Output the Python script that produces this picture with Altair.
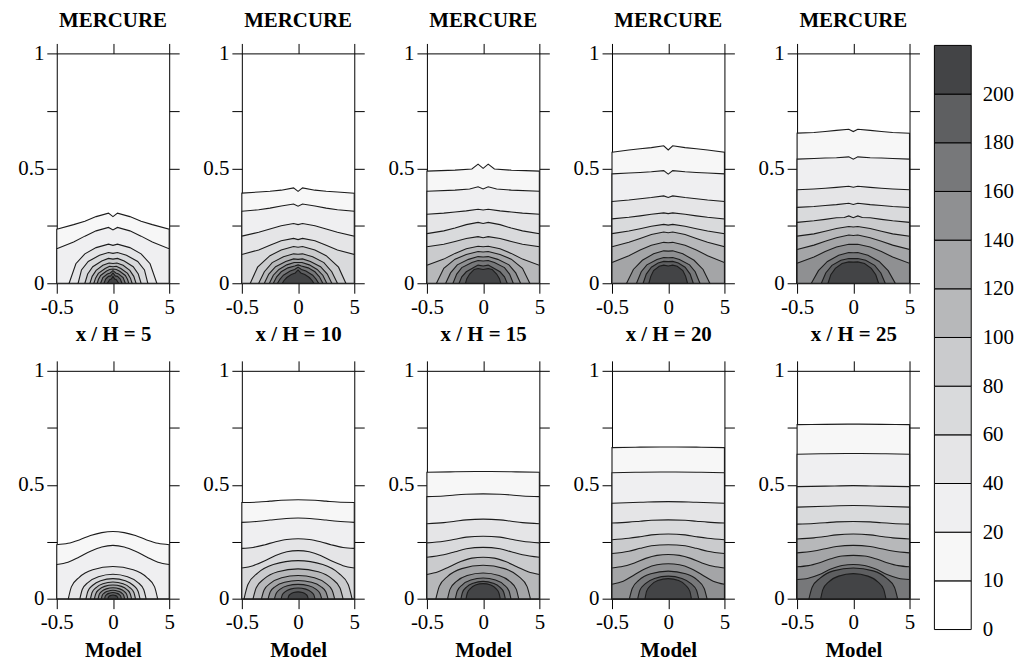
import altair as alt
import pandas as pd

# contour levels and band colours (band i lies between level i-1 and level i)
LEVELS = [10, 20, 40, 60, 80, 100, 120, 140, 160, 180, 200]
BAND_COLORS = ["#ffffff", "#f7f7f7", "#efeff1", "#e5e5e7", "#d9dadc", "#cacbcd",
               "#b7b8ba", "#a4a5a7", "#8f9092", "#77787a", "#5e5f61", "#434446"]
CBAR_LABELS = ["0", "10", "20", "40", "60", "80", "100", "120", "140", "160", "180", "200"]
XH = [5, 10, 15, 20, 25]
X_TICKS = [-5, 0, 5]
Y_TICKS = [0, 0.25, 0.5, 0.75, 1]

# half profiles (x >= 0) of each contour, one list per level in LEVELS order
# MERCURE (top row)
T1 = [
    [(0, 0.29), (0.4, 0.305), (1.5, 0.29), (2.5, 0.27), (3.5, 0.255), (5, 0.235)],
    [(0, 0.232), (0.4, 0.243), (1.5, 0.228), (2.5, 0.205), (3.5, 0.18), (5, 0.15)],
    [(0, 0.165), (0.4, 0.17), (1.5, 0.155), (2.5, 0.128), (3.3, 0.085), (3.9, 0)],
    [(0, 0.13), (0.4, 0.134), (1.2, 0.122), (2.2, 0.095), (2.8, 0.058), (3.1, 0)],
    [(0, 0.105), (0.4, 0.108), (1.0, 0.097), (1.8, 0.072), (2.25, 0.04), (2.5, 0)],
    [(0, 0.086), (0.35, 0.088), (0.9, 0.078), (1.5, 0.056), (1.85, 0.03), (2.05, 0)],
    [(0, 0.072), (0.3, 0.074), (0.7, 0.064), (1.3, 0.043), (1.55, 0.022), (1.7, 0)],
    [(0, 0.062), (0.3, 0.06), (0.6, 0.052), (1.1, 0.034), (1.3, 0.016), (1.4, 0)],
    [(0, 0.055), (0.25, 0.045), (0.5, 0.04), (0.9, 0.025), (1.1, 0)],
    [(0, 0.045), (0.2, 0.032), (0.4, 0.03), (0.65, 0.018), (0.8, 0)],
    [(0, 0.03), (0.15, 0.018), (0.3, 0.015), (0.5, 0)],
]
T2 = [
    [(0, 0.40), (0.4, 0.415), (1.5, 0.405), (2.5, 0.40), (3.5, 0.397), (5, 0.392)],
    [(0, 0.335), (0.4, 0.345), (1.5, 0.336), (2.5, 0.327), (3.5, 0.32), (5, 0.313)],
    [(0, 0.255), (0.4, 0.26), (1.5, 0.25), (2.5, 0.236), (3.5, 0.222), (5, 0.205)],
    [(0, 0.19), (0.4, 0.195), (1.5, 0.185), (2.5, 0.165), (3.5, 0.145), (5, 0.125)],
    [(0, 0.157), (0.4, 0.16), (1.5, 0.145), (2.5, 0.12), (3.6, 0.07), (4.25, 0)],
    [(0, 0.126), (0.4, 0.128), (1.3, 0.115), (2.3, 0.09), (3.0, 0.05), (3.5, 0)],
    [(0, 0.104), (0.4, 0.106), (1.1, 0.095), (2.0, 0.072), (2.6, 0.04), (3.0, 0)],
    [(0, 0.09), (0.35, 0.09), (1.0, 0.08), (1.7, 0.06), (2.2, 0.035), (2.55, 0)],
    [(0, 0.08), (0.3, 0.075), (0.9, 0.067), (1.5, 0.05), (1.9, 0.028), (2.2, 0)],
    [(0, 0.07), (0.3, 0.06), (0.7, 0.053), (1.3, 0.035), (1.6, 0.018), (1.83, 0)],
    [(0, 0.058), (0.25, 0.045), (0.6, 0.038), (1.0, 0.025), (1.25, 0.012), (1.4, 0)],
]
T3 = [
    [(0, 0.50), (0.45, 0.518), (1.0, 0.497), (2.5, 0.492), (5, 0.488)],
    [(0, 0.41), (0.45, 0.42), (1.2, 0.41), (2.5, 0.405), (5, 0.40)],
    [(0, 0.319), (0.45, 0.322), (1.5, 0.315), (2.5, 0.31), (3.5, 0.305), (5, 0.30)],
    [(0, 0.26), (0.45, 0.265), (1.5, 0.255), (2.5, 0.24), (3.5, 0.228), (5, 0.216)],
    [(0, 0.198), (0.45, 0.203), (1.5, 0.195), (2.5, 0.182), (3.5, 0.17), (5, 0.159)],
    [(0, 0.159), (0.45, 0.161), (1.5, 0.15), (2.5, 0.13), (3.5, 0.105), (5, 0.078)],
    [(0, 0.136), (0.45, 0.138), (1.5, 0.125), (2.5, 0.105), (3.5, 0.065), (4.15, 0)],
    [(0, 0.114), (0.45, 0.116), (1.3, 0.104), (2.3, 0.08), (2.9, 0.045), (3.33, 0)],
    [(0, 0.097), (0.45, 0.099), (1.0, 0.09), (1.9, 0.068), (2.35, 0.04), (2.68, 0)],
    [(0, 0.075), (0.45, 0.079), (0.8, 0.07), (1.5, 0.05), (1.9, 0.028), (2.14, 0)],
    [(0, 0.06), (0.45, 0.064), (0.8, 0.06), (1.2, 0.04), (1.45, 0.02), (1.57, 0)],
]
T4 = [
    [(0, 0.58), (0.4, 0.598), (1.5, 0.59), (2.5, 0.585), (3.5, 0.58), (5, 0.57)],
    [(0, 0.475), (0.4, 0.49), (1.5, 0.485), (2.5, 0.482), (3.5, 0.48), (5, 0.476)],
    [(0, 0.373), (0.4, 0.38), (1.5, 0.373), (2.5, 0.368), (3.5, 0.362), (5, 0.356)],
    [(0, 0.303), (0.4, 0.306), (1.5, 0.3), (2.5, 0.293), (3.5, 0.287), (5, 0.28)],
    [(0, 0.253), (0.4, 0.256), (1.5, 0.248), (2.5, 0.237), (3.5, 0.227), (5, 0.216)],
    [(0, 0.22), (0.4, 0.223), (1.5, 0.212), (2.5, 0.195), (3.5, 0.178), (5, 0.159)],
    [(0, 0.176), (0.4, 0.178), (1.5, 0.165), (2.5, 0.145), (3.5, 0.12), (5, 0.09)],
    [(0, 0.14), (0.4, 0.141), (1.3, 0.128), (2.3, 0.1), (3.1, 0.06), (3.7, 0)],
    [(0, 0.111), (0.4, 0.112), (1.0, 0.103), (1.9, 0.08), (2.4, 0.05), (2.82, 0)],
    [(0, 0.094), (0.4, 0.095), (0.9, 0.088), (1.5, 0.07), (1.95, 0.04), (2.23, 0)],
    [(0, 0.075), (0.4, 0.079), (0.8, 0.074), (1.3, 0.055), (1.55, 0.03), (1.72, 0)],
]
T5 = [
    [(0, 0.66), (0.4, 0.67), (1.5, 0.665), (2.5, 0.66), (3.5, 0.656), (5, 0.653)],
    [(0, 0.54), (0.4, 0.55), (1.5, 0.546), (2.5, 0.545), (3.5, 0.543), (5, 0.54)],
    [(0, 0.418), (0.4, 0.422), (1.5, 0.417), (2.5, 0.413), (3.5, 0.41), (5, 0.407)],
    [(0, 0.343), (0.4, 0.348), (1.5, 0.342), (2.5, 0.338), (3.5, 0.334), (5, 0.33)],
    [(0, 0.285), (0.4, 0.293), (0.8, 0.286), (1.5, 0.285), (2.5, 0.278), (3.5, 0.272), (5, 0.265)],
    [(0, 0.245), (0.4, 0.247), (1.5, 0.238), (2.5, 0.226), (3.5, 0.215), (5, 0.205)],
    [(0, 0.208), (0.4, 0.21), (1.5, 0.198), (2.5, 0.183), (3.5, 0.166), (5, 0.147)],
    [(0, 0.169), (0.4, 0.17), (1.5, 0.158), (2.5, 0.138), (3.5, 0.114), (5, 0.087)],
    [(0, 0.133), (0.4, 0.134), (1.3, 0.122), (2.3, 0.095), (3.1, 0.055), (3.73, 0)],
    [(0, 0.107), (0.4, 0.108), (1.1, 0.1), (1.9, 0.078), (2.45, 0.045), (2.84, 0)],
    [(0, 0.092), (0.4, 0.093), (1.0, 0.086), (1.6, 0.065), (2.0, 0.037), (2.25, 0)],
]
# Model (bottom row)
B1 = [
    [(0, 0.295), (1, 0.29), (2, 0.277), (3, 0.258), (4, 0.243), (5, 0.237)],
    [(0, 0.234), (1, 0.227), (2, 0.208), (3, 0.183), (4, 0.16), (5, 0.15)],
    [(0, 0.141), (1.8, 0.127), (3.0, 0.094), (3.7, 0.052), (3.97, 0)],
    [(0, 0.107), (1.3, 0.096), (2.2, 0.072), (2.73, 0.04), (2.94, 0)],
    [(0, 0.088), (1.1, 0.079), (1.8, 0.059), (2.23, 0.033), (2.4, 0)],
    [(0, 0.073), (0.9, 0.066), (1.5, 0.049), (1.86, 0.027), (2.0, 0)],
    [(0, 0.06), (0.75, 0.054), (1.24, 0.04), (1.53, 0.022), (1.65, 0)],
    [(0, 0.048), (0.6, 0.043), (1.0, 0.032), (1.23, 0.018), (1.32, 0)],
    [(0, 0.037), (0.46, 0.033), (0.77, 0.025), (0.96, 0.014), (1.03, 0)],
    [(0, 0.027), (0.33, 0.024), (0.56, 0.018), (0.69, 0.01), (0.74, 0)],
    [(0, 0.016), (0.2, 0.014), (0.33, 0.011), (0.41, 0.006), (0.44, 0)],
]
B2 = [
    [(0, 0.434), (1.5, 0.432), (2.5, 0.428), (3.5, 0.424), (5, 0.422)],
    [(0, 0.354), (1.5, 0.35), (2.5, 0.345), (3.5, 0.34), (5, 0.335)],
    [(0, 0.263), (1, 0.26), (2, 0.25), (3, 0.236), (4, 0.225), (5, 0.221)],
    [(0, 0.211), (1, 0.206), (2, 0.19), (3, 0.165), (4, 0.145), (5, 0.135)],
    [(0, 0.167), (2.2, 0.15), (3.6, 0.112), (4.46, 0.062), (4.8, 0)],
    [(0, 0.131), (1.8, 0.118), (3.0, 0.088), (3.72, 0.048), (4.0, 0)],
    [(0, 0.102), (1.46, 0.092), (2.44, 0.068), (3.02, 0.038), (3.25, 0)],
    [(0, 0.08), (1.2, 0.072), (2.0, 0.054), (2.47, 0.03), (2.66, 0)],
    [(0, 0.063), (0.95, 0.057), (1.58, 0.042), (1.95, 0.023), (2.1, 0)],
    [(0, 0.047), (0.68, 0.042), (1.13, 0.031), (1.4, 0.017), (1.5, 0)],
    [(0, 0.03), (0.4, 0.027), (0.68, 0.02), (0.84, 0.011), (0.9, 0)],
]
B3 = [
    [(0, 0.558), (2.5, 0.557), (5, 0.555)],
    [(0, 0.46), (1.5, 0.458), (2.5, 0.455), (3.5, 0.451), (5, 0.448)],
    [(0, 0.349), (1.5, 0.346), (2.5, 0.34), (3.5, 0.334), (5, 0.329)],
    [(0, 0.274), (1.5, 0.27), (2.5, 0.261), (3.5, 0.252), (5, 0.245)],
    [(0, 0.225), (1.5, 0.219), (2.5, 0.206), (3.5, 0.193), (5, 0.182)],
    [(0, 0.182), (1, 0.178), (2, 0.163), (3, 0.14), (4, 0.118), (5, 0.106)],
    [(0, 0.147), (1.9, 0.132), (3.15, 0.098), (3.9, 0.054), (4.2, 0)],
    [(0, 0.113), (1.42, 0.102), (2.37, 0.076), (2.94, 0.042), (3.16, 0)],
    [(0, 0.091), (1.1, 0.082), (1.85, 0.061), (2.3, 0.034), (2.47, 0)],
    [(0, 0.076), (0.89, 0.068), (1.48, 0.051), (1.83, 0.028), (1.97, 0)],
    [(0, 0.066), (0.68, 0.06), (1.14, 0.044), (1.41, 0.024), (1.52, 0)],
]
B4 = [
    [(0, 0.666), (2.5, 0.665), (5, 0.663)],
    [(0, 0.556), (2.5, 0.555), (5, 0.553)],
    [(0, 0.426), (2.5, 0.423), (5, 0.419)],
    [(0, 0.346), (1.5, 0.344), (2.5, 0.34), (3.5, 0.336), (5, 0.332)],
    [(0, 0.284), (1.5, 0.28), (2.5, 0.272), (3.5, 0.265), (5, 0.259)],
    [(0, 0.237), (1.5, 0.232), (2.5, 0.221), (3.5, 0.208), (5, 0.198)],
    [(0, 0.194), (1, 0.19), (2, 0.177), (3, 0.157), (4, 0.142), (5, 0.135)],
    [(0, 0.153), (1, 0.149), (2, 0.133), (3, 0.105), (4, 0.077), (5, 0.063)],
    [(0, 0.121), (1.55, 0.109), (2.6, 0.081), (3.2, 0.045), (3.45, 0)],
    [(0, 0.099), (1.22, 0.089), (2.03, 0.066), (2.52, 0.037), (2.71, 0)],
    [(0, 0.088), (0.93, 0.08), (1.55, 0.059), (1.92, 0.033), (2.06, 0)],
]
B5 = [
    [(0, 0.766), (2.5, 0.765), (5, 0.764)],
    [(0, 0.637), (2.5, 0.636), (5, 0.634)],
    [(0, 0.496), (2.5, 0.494), (5, 0.492)],
    [(0, 0.409), (2.5, 0.406), (5, 0.402)],
    [(0, 0.339), (1.5, 0.337), (2.5, 0.333), (3.5, 0.33), (5, 0.327)],
    [(0, 0.284), (1.5, 0.28), (2.5, 0.273), (3.5, 0.267), (5, 0.262)],
    [(0, 0.234), (1.5, 0.229), (2.5, 0.219), (3.5, 0.209), (5, 0.201)],
    [(0, 0.19), (1, 0.187), (2, 0.175), (3, 0.158), (4, 0.145), (5, 0.14)],
    [(0, 0.15), (1, 0.146), (2, 0.13), (3, 0.106), (4, 0.09), (5, 0.084)],
    [(0, 0.135), (1.77, 0.122), (2.95, 0.09), (3.66, 0.05), (3.94, 0)],
    [(0, 0.11), (1.3, 0.099), (2.18, 0.074), (2.7, 0.041), (2.9, 0)],
]
TOP = [T1, T2, T3, T4, T5]
BOTTOM = [B1, B2, B3, B4, B5]

FONT = "Liberation Serif"
FS = 21
W = 113
H_TOP = 231
H_BOT = 229
LINE = "#1c1c1c"


def mirror(pts):
    left = [(-x, y) for (x, y) in reversed(pts) if x > 0]
    return left + list(pts)


def axis_common(**kw):
    base = dict(tickSize=10, tickColor="black", domainColor="black", domainWidth=1,
                tickWidth=1, grid=False, labelFont=FONT, labelFontSize=FS,
                labelColor="black", titleFont=FONT, titleFontSize=FS,
                titleFontWeight="bold", titleColor="black")
    base.update(kw)
    return alt.Axis(**base)


Y_LABEL_EXPR = ("datum.value == 0 ? '0' : datum.value == 0.5 ? '0.5' : "
                "datum.value == 1 ? '1' : ''")
X_LABEL_EXPR = "datum.value == -5 ? '-0.5' : datum.value == 0 ? '0' : '5'"


def panel(profiles, height, xtitle, title=None, smooth=False):
    layers = []
    for k, pts in enumerate(profiles):
        df = pd.DataFrame(mirror(pts), columns=["x", "y"])
        if k == 0:
            xax = axis_common(orient="bottom", values=X_TICKS, title=xtitle,
                              labelExpr=X_LABEL_EXPR, labelFlush=False,
                              labelPadding=3, titlePadding=7)
            yax = axis_common(orient="left", values=Y_TICKS, title=None,
                              labelExpr=Y_LABEL_EXPR, labelFlush=False,
                              labelPadding=3, minExtent=49, maxExtent=49)
        elif k == 1:
            xax = axis_common(orient="top", values=X_TICKS, labels=False, title=None)
            yax = axis_common(orient="right", values=Y_TICKS, labels=False, title=None,
                              minExtent=10, maxExtent=10)
        else:
            xax = None
            yax = None
        layers.append(
            alt.Chart(df).mark_area(
                color=BAND_COLORS[k + 1], stroke=LINE, strokeWidth=1.1,
                interpolate="monotone" if smooth else "linear",
            ).encode(
                x=alt.X("x:Q", scale=alt.Scale(domain=[-5, 5], nice=False, zero=False), axis=xax),
                y=alt.Y("y:Q", scale=alt.Scale(domain=[0, 1], nice=False), axis=yax, stack=None),
                y2=alt.datum(0),
            )
        )
    props = dict(width=W, height=height)
    if title:
        props["title"] = alt.TitleParams(title, font=FONT, fontSize=FS, fontWeight="bold",
                                         color="black", frame="group", anchor="middle", offset=12)
    return alt.layer(*layers).resolve_axis(x="independent", y="independent").properties(**props)


top_row = alt.hconcat(*[panel(p, H_TOP, f"x / H = {v}", title="MERCURE") for p, v in zip(TOP, XH)],
                      spacing=13)
bottom_row = alt.hconcat(*[panel(p, H_BOT, "Model", smooth=True) for p in BOTTOM], spacing=13)
grid = alt.vconcat(top_row, bottom_row, spacing=15)

# colour bar: plot area aligned with the panel tops; top box reaches a little above
cb_df = pd.DataFrame({"i": list(range(12)), "i2": list(range(1, 13)), "c": BAND_COLORS})
lab_js = "[" + ",".join(f"'{s}'" for s in CBAR_LABELS) + "]"
cbar = alt.Chart(cb_df).mark_rect(stroke="black", strokeWidth=1, clip=False).encode(
    y=alt.Y("i:Q", scale=alt.Scale(domain=[0, 11.836], nice=False, zero=False),
            axis=alt.Axis(orient="right", values=list(range(12)), domain=False, ticks=False,
                          grid=False, labelFont=FONT, labelFontSize=FS, labelColor="black",
                          labelPadding=11, labelExpr=lab_js + "[datum.value]", title=None,
                          labelFlush=False, labelOverlap=False)),
    y2="i2:Q",
    color=alt.Color("c:N", scale=None),
).properties(width=37, height=579)

chart = alt.hconcat(grid, cbar, spacing=13).properties(padding=0).configure_view(stroke=None)

chart.save("out.html", embed_options={"renderer": "svg", "actions": False})
